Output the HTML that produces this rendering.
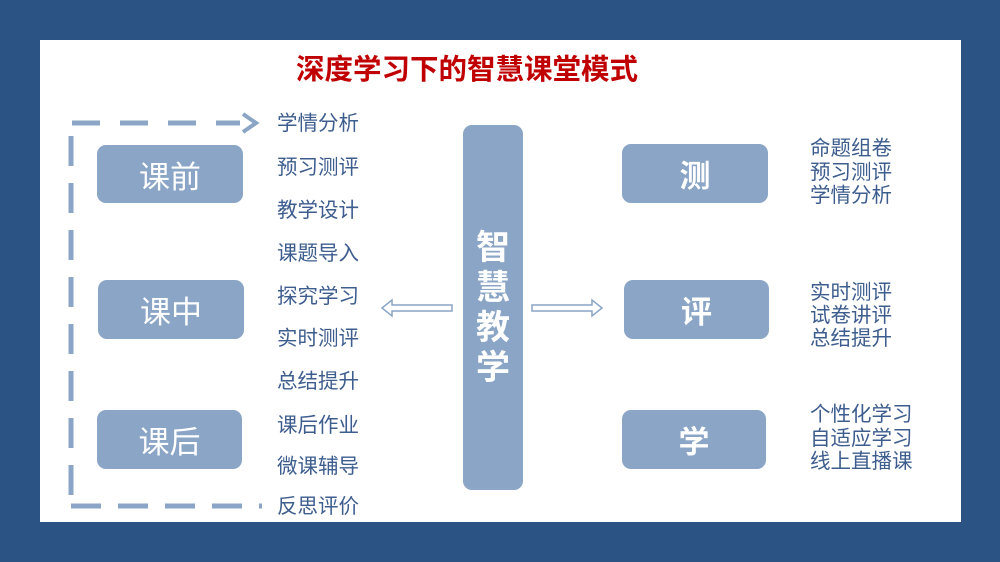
<!DOCTYPE html>
<html><head><meta charset="utf-8"><style>
body{margin:0;width:1000px;height:562px;background:#2b5384;position:relative;overflow:hidden;font-family:"Liberation Sans","Noto Sans CJK SC",sans-serif}
.panel{position:absolute;left:40px;top:40px;width:921px;height:482px;background:#fff}
.box{position:absolute;background:#8aa5c5;border-radius:9px;color:#fff;display:flex;align-items:center;justify-content:center;font-size:31px}
.t{position:absolute;color:#3d5d8e;font-size:20.5px;line-height:22px;white-space:nowrap}
.title{position:absolute;left:296px;top:54px;color:#c00000;font-weight:bold;font-size:28.5px;line-height:32px;white-space:nowrap}
</style></head><body>
<div class="panel"></div>
<div class="title">深度学习下的智慧课堂模式</div>
<svg width="1000" height="562" style="position:absolute;left:0;top:0">
<g stroke="#8aa5c5" stroke-width="5" fill="none">
<line x1="72" y1="123" x2="240" y2="123" stroke-dasharray="28,20"/>
<polyline points="243,114 256,123 243,132" stroke-width="4"/>
<line x1="71" y1="136" x2="71" y2="505" stroke-dasharray="30,17"/>
<line x1="71" y1="506" x2="262" y2="506" stroke-dasharray="30,17"/>
</g>
<g stroke="#8aa5c5" stroke-width="1.5" fill="#fff">
<polygon points="382,308 392,300 392,305 452,305 452,311 392,311 392,316"/>
<polygon points="602,308 592,300 592,305 532,305 532,311 592,311 592,316"/>
</g>
</svg>
<div class="box" style="left:97px;top:145px;width:146px;height:58px">课前</div>
<div class="box" style="left:98px;top:280px;width:146px;height:59px">课中</div>
<div class="box" style="left:97px;top:410px;width:145px;height:59px">课后</div>
<div class="box" style="left:463px;top:125px;width:60px;height:365px;font-weight:bold;font-size:34px;line-height:40px;text-align:center;flex-direction:column">智<br>慧<br>教<br>学</div>
<div class="box" style="left:622px;top:144px;width:146px;height:59px;font-weight:bold">测</div>
<div class="box" style="left:624px;top:280px;width:145px;height:59px;font-weight:bold">评</div>
<div class="box" style="left:622px;top:410px;width:144px;height:59px;font-weight:bold">学</div>
<div class="t" style="left:277px;top:113px">学情分析</div>
<div class="t" style="left:277px;top:157px">预习测评</div>
<div class="t" style="left:277px;top:200px">教学设计</div>
<div class="t" style="left:277px;top:243px">课题导入</div>
<div class="t" style="left:277px;top:286px">探究学习</div>
<div class="t" style="left:277px;top:328px">实时测评</div>
<div class="t" style="left:277px;top:371px">总结提升</div>
<div class="t" style="left:277px;top:415px">课后作业</div>
<div class="t" style="left:277px;top:456px">微课辅导</div>
<div class="t" style="left:277px;top:496px">反思评价</div>
<div class="t" style="left:810px;top:137px;line-height:23.5px">命题组卷<br>预习测评<br>学情分析</div>
<div class="t" style="left:810px;top:281px;line-height:23px">实时测评<br>试卷讲评<br>总结提升</div>
<div class="t" style="left:810px;top:403px;line-height:23.5px">个性化学习<br>自适应学习<br>线上直播课</div>
</body></html>
